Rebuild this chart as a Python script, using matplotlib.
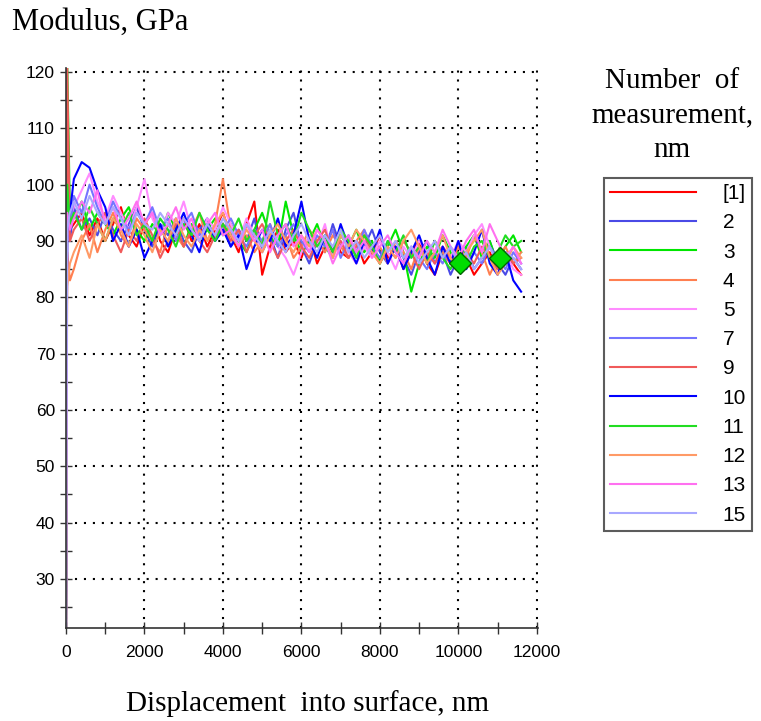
import matplotlib
matplotlib.use("Agg")
from matplotlib import pyplot as plt
from matplotlib.ticker import MultipleLocator

# displacement grid, nm (start spike, then every 200 nm)
x_nm = [0, 30, 100] + [200 * k for k in range(1, 59)]

labels = ['[1]', '2', '3', '4', '5', '7', '9', '10', '11', '12', '13', '15']
colors = ['#ff0000', '#4a4ae6', '#00e600', '#ff7f50', '#ff8cff', '#7474ff',
          '#f05a5a', '#0000ff', '#22dd22', '#ff9a66', '#ff70f0', '#a8a8ff']

# modulus values, GPa
m1 = [20, 113, 92,
      93, 95, 91, 94, 90, 93, 96, 91, 89, 93,
      95, 90, 88, 92, 94, 90, 93, 89, 92, 95,
      91, 88, 93, 97, 84, 89, 92, 88, 90, 87,
      91, 86, 89, 92, 88, 87, 90, 86, 88, 91,
      87, 89, 85, 88, 90, 86, 84, 88, 86, 89,
      87, 84, 86, 88, 85, 88, 86, 84]
m2 = [20, 94, 90,
      96, 92, 94, 91, 95, 92, 90, 93, 96, 92,
      89, 93, 91, 94, 90, 88, 92, 94, 90, 93,
      89, 92, 90, 94, 88, 91, 87, 92, 95, 89,
      86, 90, 88, 93, 89, 91, 87, 89, 92, 88,
      86, 89, 87, 84, 88, 90, 86, 88, 84, 87,
      89, 85, 87, 90, 86, 84, 87, 85]
m3 = [20, 122, 95,
      94, 97, 92, 95, 93, 91, 94, 96, 92, 90,
      93, 91, 95, 92, 89, 93, 90, 92, 94, 91,
      93, 90, 88, 92, 95, 91, 89, 97, 91, 88,
      90, 93, 89, 87, 91, 89, 92, 88, 90, 86,
      89, 92, 88, 81, 86, 89, 87, 91, 88, 85,
      89, 91, 87, 90, 86, 89, 91, 88]
m4 = [20, 88, 83,
      85, 90, 93, 88, 92, 95, 91, 89, 94, 92,
      90, 88, 93, 91, 89, 92, 95, 90, 93, 101,
      92, 89, 91, 88, 90, 93, 89, 91, 87, 89,
      92, 90, 88, 91, 89, 87, 90, 92, 88, 89,
      86, 90, 88, 85, 89, 87, 90, 88, 86, 89,
      87, 91, 88, 84, 87, 89, 86, 88]
m5 = [20, 90, 94,
      96, 99, 102, 97, 94, 98, 95, 92, 96, 101,
      94, 91, 95, 93, 97, 92, 90, 94, 92, 96,
      93, 90, 94, 91, 88, 92, 89, 87, 84, 88,
      91, 89, 93, 87, 90, 88, 86, 89, 87, 90,
      88, 85, 89, 87, 90, 88, 86, 89, 87, 90,
      88, 91, 93, 89, 86, 88, 85, 84]
m7 = [20, 96, 92,
      98, 95, 100, 96, 93, 97, 94, 92, 95, 93,
      96, 92, 94, 90, 93, 95, 91, 93, 90, 92,
      94, 91, 89, 92, 90, 93, 89, 91, 93, 90,
      88, 91, 89, 92, 87, 90, 88, 92, 89, 87,
      90, 88, 86, 89, 87, 85, 88, 86, 89, 87,
      85, 88, 86, 89, 87, 85, 88, 86]
m9 = [20, 121, 90,
      92, 94, 90, 93, 95, 91, 88, 92, 90, 94,
      91, 87, 90, 93, 89, 92, 90, 88, 91, 93,
      90, 92, 88, 91, 93, 90, 87, 90, 92, 89,
      87, 90, 92, 88, 90, 87, 89, 91, 88, 86,
      89, 87, 90, 88, 85, 88, 86, 89, 87, 85,
      88, 86, 89, 87, 85, 88, 86, 87]
m10 = [20, 92, 95,
       101, 104, 103, 99, 96, 90, 93, 89, 92, 87,
       90, 93, 89, 92, 95, 91, 88, 93, 90, 92,
       89, 91, 85, 89, 92, 90, 94, 89, 91, 97,
       90, 87, 91, 88, 93, 89, 86, 90, 88, 92,
       86, 89, 85, 88, 91, 87, 84, 89, 86, 90,
       85, 88, 92, 86, 84, 88, 83, 81]
m11 = [20, 100, 93,
       95, 92, 96, 93, 90, 94, 92, 95, 91, 93,
       90, 94, 92, 89, 93, 91, 95, 92, 90, 93,
       91, 94, 90, 92, 89, 97, 91, 93, 90, 95,
       92, 89, 91, 88, 92, 90, 87, 91, 89, 86,
       90, 88, 91, 87, 89, 86, 90, 87, 85, 88,
       86, 89, 90, 87, 88, 91, 89, 90]
m12 = [20, 82, 86,
       88, 91, 87, 93, 90, 94, 92, 89, 93, 91,
       88, 92, 90, 94, 91, 89, 92, 90, 93, 95,
       91, 89, 92, 90, 88, 91, 93, 90, 88, 91,
       89, 92, 90, 87, 91, 89, 92, 90, 88, 86,
       89, 87, 90, 92, 89, 86, 88, 91, 87, 85,
       88, 90, 92, 87, 84, 86, 89, 87]
m13 = [20, 95, 92,
       94, 97, 95, 99, 93, 96, 92, 94, 97, 93,
       95, 91, 93, 96, 92, 94, 90, 93, 95, 91,
       92, 89, 93, 90, 92, 88, 91, 93, 89, 91,
       88, 92, 90, 86, 89, 91, 88, 90, 87, 89,
       91, 88, 86, 89, 87, 90, 88, 92, 89, 87,
       90, 92, 88, 93, 90, 87, 89, 86]
m15 = [20, 92, 95,
       97, 94, 98, 95, 93, 96, 94, 91, 95, 93,
       92, 95, 93, 91, 94, 92, 90, 93, 91, 94,
       92, 90, 93, 91, 89, 92, 90, 88, 91, 93,
       90, 88, 91, 89, 92, 88, 90, 87, 89, 91,
       88, 90, 87, 89, 86, 88, 90, 87, 89, 86,
       88, 85, 87, 89, 86, 88, 87, 85]
series = [m1, m2, m3, m4, m5, m7, m9, m10, m11, m12, m13, m15]

# green diamond markers
mark_x = [10050, 11050]
mark_y = [86, 87]

fig = plt.figure(figsize=(7.61, 7.21), dpi=100)
ax = fig.add_axes([66 / 761, 1 - 628 / 721, (538 - 66) / 761, (628 - 68) / 721])

for vals, c, lab in zip(series, colors, labels):
    ax.plot(x_nm[:len(vals)], vals, color=c, lw=1.5, label=lab)
ax.plot(mark_x, mark_y, 'D', ms=11, mfc='#00dd00', mec='#006600', mew=1)

ax.set_xlim(0, 12030)
ax.set_ylim(21.3, 120.7)
ax.xaxis.set_major_locator(MultipleLocator(2000))
ax.xaxis.set_minor_locator(MultipleLocator(1000))
ax.yaxis.set_major_locator(MultipleLocator(10))
ax.yaxis.set_minor_locator(MultipleLocator(5))
ax.set_yticks(range(30, 121, 10))
ax.grid(True, which='major', color='black', ls=(0, (1, 3.3)), lw=1.5)
for s in ['top', 'right']:
    ax.spines[s].set_visible(False)
for s in ['left', 'bottom']:
    ax.spines[s].set_color('#333333')
    ax.spines[s].set_linewidth(1.2)
ax.tick_params(which='major', direction='inout', length=8, width=1, color='#333333',
               labelsize=12.5, pad=4)
ax.tick_params(which='minor', direction='inout', length=8, width=1, color='#333333')
ax.tick_params(axis='x', pad=8)
for t in ax.get_xticklabels() + ax.get_yticklabels():
    t.set_family('Liberation Sans')

serif = 'Liberation Serif'
fig.text(12 / 761, 1 - 30 / 721, 'Modulus, GPa', family=serif, fontsize=22, va='baseline')
fig.text(307 / 761, 1 - 711 / 721, 'Displacement  into surface, nm', family=serif,
         fontsize=21, ha='center', va='baseline')
for txt, yb in zip(['Number  of', 'measurement,', 'nm'], [88, 122, 157]):
    fig.text(672 / 761, 1 - yb / 721, txt, family=serif, fontsize=21, ha='center',
             va='baseline')

leg = fig.legend(loc='upper left', bbox_to_anchor=(604 / 761, 1 - 178 / 721),
                 borderaxespad=0, fancybox=False, frameon=True, edgecolor='#333333',
                 prop={'family': 'Liberation Sans', 'size': 15}, handlelength=4.1,
                 handletextpad=1.3, labelspacing=0.49, borderpad=0.3)
leg.get_frame().set_linewidth(1.5)

fig.savefig('out.png', dpi=100)
